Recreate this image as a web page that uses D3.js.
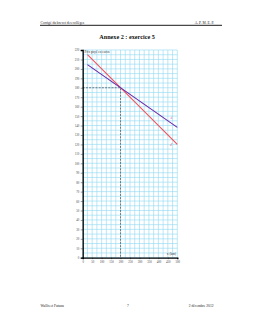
<!DOCTYPE html>
<html>
<head>
<meta charset="utf-8">
<script src="https://cdn.jsdelivr.net/npm/d3@7"></script>
<style>
  body { margin: 0; background: #fff; }
  svg { display: block; font-family: "Liberation Serif", "DejaVu Serif", serif; }
</style>
</head>
<body>
<script>
// data
var xTicks = [0, 50, 100, 150, 200, 250, 300, 350, 400, 450, 500];
var yTicks = [0, 10, 20, 30, 40, 50, 60, 70, 80, 90, 100, 110, 120, 130, 140, 150, 160, 170, 180, 190, 200, 210, 220];
var lineX = [25, 500];
var redY = [215, 120];
var purpleY = [204.5, 138];
var meet = [200, 180];

var width = 255, height = 330;

var svg = d3.select('body').append('svg')
    .attr('width', width)
    .attr('height', height);

svg.append('rect').attr('width', width).attr('height', height).attr('fill', '#fff');

// header
svg.append('text').attr('x', 40.5).attr('y', 23.5)
    .attr('font-size', 3.6).attr('fill', '#222')
    .text('Corrigé du brevet des collèges');
svg.append('text').attr('x', 214).attr('y', 23.5)
    .attr('font-size', 3.6).attr('fill', '#222').attr('text-anchor', 'end')
    .text('A. P. M. E. P.');
svg.append('line').attr('x1', 40).attr('x2', 222).attr('y1', 25.3).attr('y2', 25.3)
    .attr('stroke', '#000').attr('stroke-width', 0.9);

// title
svg.append('text').attr('x', 127).attr('y', 39)
    .attr('font-size', 6.2).attr('font-weight', 'bold').attr('fill', '#111').attr('text-anchor', 'middle')
    .text('Annexe 2 : exercice 5');

// footer
svg.append('text').attr('x', 40.5).attr('y', 307)
    .attr('font-size', 3.6).attr('fill', '#222').text('Wallis et Futuna');
svg.append('text').attr('x', 128).attr('y', 307)
    .attr('font-size', 3.6).attr('fill', '#222').attr('text-anchor', 'middle').text('7');
svg.append('text').attr('x', 213.5).attr('y', 307)
    .attr('font-size', 3.6).attr('fill', '#222').attr('text-anchor', 'end').text('2 décembre 2012');

// scales
var xScale = d3.scaleLinear().domain([0, 500]).range([82.7, 177.3]);
var yScale = d3.scaleLinear().domain([0, 220]).range([257.7, 50]);

// grid (every half step)
var grid = svg.append('g').attr('stroke', '#8fd9f2').attr('stroke-width', 0.6);
grid.selectAll('line.v')
    .data(d3.range(0, 501, 25))
    .join('line')
    .attr('class', 'v')
    .attr('x1', d => xScale(d)).attr('x2', d => xScale(d))
    .attr('y1', yScale(0)).attr('y2', yScale(220));
grid.selectAll('line.h')
    .data(d3.range(0, 221, 5))
    .join('line')
    .attr('class', 'h')
    .attr('x1', xScale(0)).attr('x2', xScale(500))
    .attr('y1', d => yScale(d)).attr('y2', d => yScale(d));

// dashed guides to the meeting point
svg.append('path')
    .attr('d', 'M' + xScale(0) + ',' + yScale(meet[1]) + 'H' + xScale(meet[0]) + 'V' + yScale(0))
    .attr('fill', 'none').attr('stroke', '#333').attr('stroke-width', 0.6)
    .attr('stroke-dasharray', '2,1.2');

// lines
var line = d3.line().x(d => xScale(d[0])).y(d => yScale(d[1]));
svg.append('path')
    .attr('d', line(d3.zip(lineX, redY)))
    .attr('fill', 'none').attr('stroke', '#f0525a').attr('stroke-width', 1.1);
svg.append('path')
    .attr('d', line(d3.zip(lineX, purpleY)))
    .attr('fill', 'none').attr('stroke', '#6a2aa8').attr('stroke-width', 1.1);

// line labels
svg.append('text').attr('x', 170.5).attr('y', 119)
    .attr('font-size', 3.4).attr('font-style', 'italic').attr('fill', '#c060c0').text('d');
svg.append('text').attr('x', 170).attr('y', 146)
    .attr('font-size', 3.4).attr('font-style', 'italic').attr('fill', '#d05a7a').text('d′');

// axes
var xAxis = svg.append('g')
    .attr('transform', 'translate(0,' + yScale(0) + ')')
    .call(d3.axisBottom(xScale).tickValues(xTicks).tickSize(1.5).tickPadding(1.5));
var yAxis = svg.append('g')
    .attr('transform', 'translate(' + xScale(0) + ',0)')
    .call(d3.axisLeft(yScale).tickValues(yTicks).tickSize(2).tickPadding(1.5));

[xAxis, yAxis].forEach(function (g) {
    g.attr('font-family', null).attr('font-size', null);
    g.select('.domain').attr('stroke', '#000').attr('stroke-width', 1.3);
    g.selectAll('.tick line').attr('stroke', '#000').attr('stroke-width', 0.4);
    g.selectAll('.tick text').attr('font-size', 3).attr('fill', '#444');
});

// axis titles
svg.append('text').attr('x', 84.5).attr('y', 52.5)
    .attr('font-size', 3.4).attr('fill', '#333').text('Prix payé en euros');
svg.append('text').attr('x', 176).attr('y', 255)
    .attr('font-size', 3.4).attr('fill', '#333').attr('text-anchor', 'end').text('x (km)');
</script>
</body>
</html>
